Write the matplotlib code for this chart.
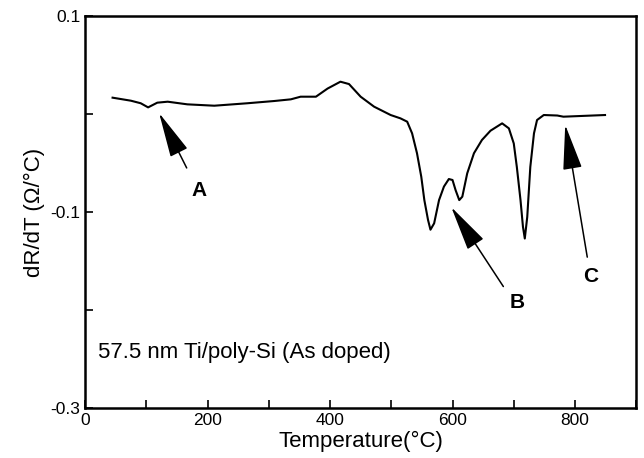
import matplotlib
matplotlib.use("Agg")
import matplotlib.pyplot as plt

plt.rcParams['font.family'] = ['Liberation Sans', 'DejaVu Sans']
plt.rcParams['axes.unicode_minus'] = False

temp = [45, 75, 91, 103, 118, 135, 167, 211, 265, 309, 336, 352, 377, 396,
        417, 431, 450, 472, 499, 515, 526, 534, 542, 549, 554, 560, 564, 570,
        578, 586, 594, 600, 605, 611, 616, 624, 635, 648, 662, 681, 692, 700,
        705, 711, 715, 718, 722, 727, 733, 738, 749, 771, 781, 849]
drdt = [0.0167, 0.0136, 0.011, 0.0068, 0.0116, 0.0126, 0.0099, 0.0085, 0.011,
        0.0133, 0.015, 0.0177, 0.0177, 0.026, 0.033, 0.0306, 0.0177, 0.0075,
        -0.001, -0.0044, -0.0078, -0.0197, -0.040, -0.064, -0.0878, -0.108,
        -0.118, -0.1115, -0.0878, -0.074, -0.0663, -0.0673, -0.0776, -0.0878,
        -0.0843, -0.0605, -0.040, -0.0265, -0.017, -0.0095, -0.0146, -0.030,
        -0.054, -0.0878, -0.115, -0.127, -0.105, -0.054, -0.0197, -0.0061,
        -0.001, -0.0015, -0.0027, -0.001]

x_major = [0, 200, 400, 600, 800]
x_minor = [100, 300, 500, 700, 900]
y_major = [0.1, -0.1, -0.3]
y_major_labels = ['0.1', '-0.1', '-0.3']
y_minor = [0.0, -0.2]

# arrow labels: (text, label position, arrow tail, arrow tip)
markers = [
    ('A', (186, -0.078), (166, -0.055), (121, 0.001)),
    ('B', (706, -0.192), (683, -0.176), (598, -0.095)),
    ('C', (826, -0.166), (820, -0.146), (784, -0.011)),
]

fig = plt.figure(figsize=(6.44, 4.58), dpi=100)
ax = fig.add_axes([0.132, 0.109, 0.856, 0.856])

ax.plot(temp, drdt, color='black', lw=1.5, solid_joinstyle='round')

ax.set_xlim(0, 900)
ax.set_ylim(-0.3, 0.1)
ax.set_xticks(x_major)
ax.set_xticks(x_minor, minor=True)
ax.set_yticks(y_major)
ax.set_yticklabels(y_major_labels)
ax.set_yticks(y_minor, minor=True)
ax.tick_params(which='both', direction='in', labelsize=12.5, width=1.2, length=6)
for s in ax.spines.values():
    s.set_linewidth(1.8)

ax.set_xlabel('Temperature(°C)', fontsize=16, labelpad=2)
ax.set_ylabel('dR/dT (Ω/°C)', fontsize=16, labelpad=4)

for name, lab, tail, tip in markers:
    ax.annotate('', xy=tip, xytext=tail,
                arrowprops=dict(arrowstyle='-|>,head_length=1.9,head_width=0.4',
                                mutation_scale=15, color='black', lw=1.1,
                                shrinkA=0, shrinkB=0))
    ax.text(lab[0], lab[1], name, fontsize=15, fontweight='bold',
            ha='center', va='center')

ax.text(21, -0.249, '57.5 nm Ti/poly-Si (As doped)', fontsize=16,
        ha='left', va='baseline')

fig.savefig('out.png', dpi=100)
